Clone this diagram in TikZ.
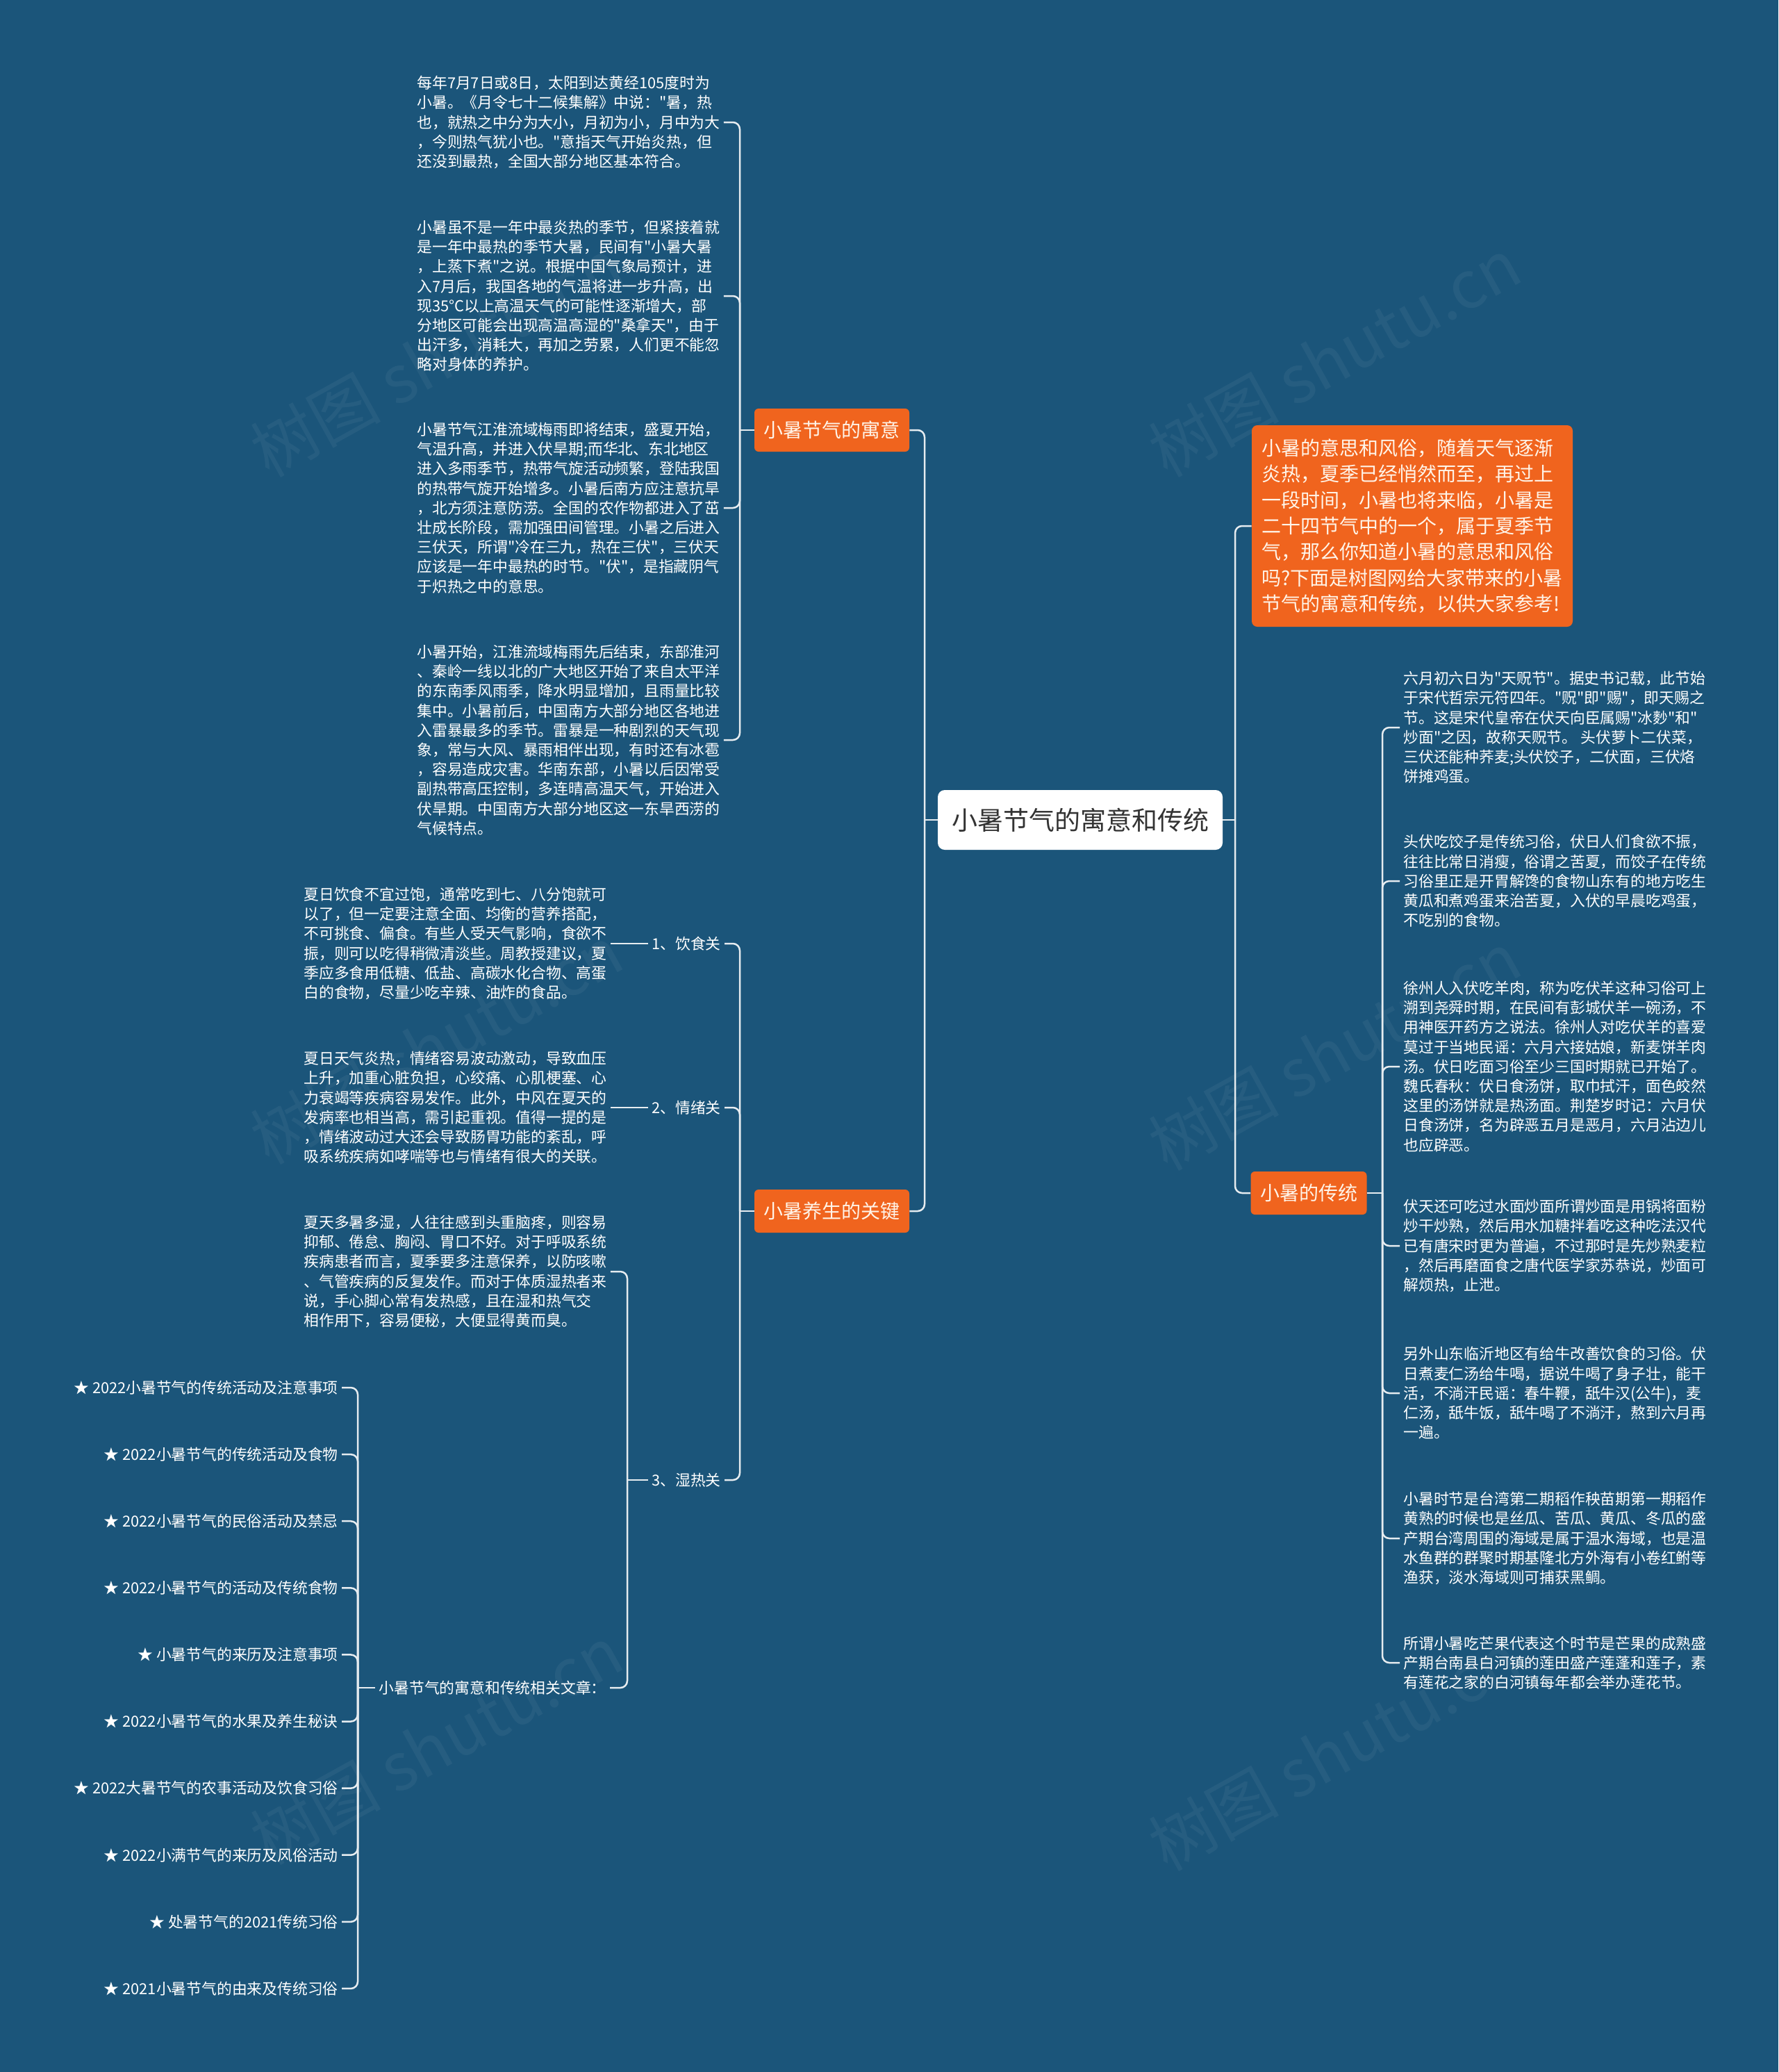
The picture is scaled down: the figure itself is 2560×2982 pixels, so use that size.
\documentclass[tikz,border=0pt]{standalone}
\usepackage{fontspec}
\setmainfont{Noto Sans CJK SC}
\newfontfamily\cjk{Noto Sans CJK SC}
\definecolor{bg}{HTML}{1B557A}
\definecolor{org}{HTML}{F0641E}
\definecolor{ln}{HTML}{E6ECF0}
\definecolor{cream}{HTML}{FFF4E8}
\begin{document}
\begin{tikzpicture}[x=0.5pt,y=-0.5pt,
 body/.style={font=\cjk\fontsize{10.9}{14.1}\selectfont, text=white, align=left, inner xsep=2.5pt, inner ysep=0pt},
 lbl/.style={font=\cjk\fontsize{10.9}{14.1}\selectfont, text=white, inner xsep=2.5pt, inner ysep=2pt},
 topic/.style={fill=org, text=cream, rounded corners=3pt, font=\cjk\fontsize{14}{16}\selectfont, minimum height=31pt, inner xsep=6.75pt},
 conn/.style={draw=ln, line width=1.25pt, rounded corners=5pt},
 wm/.style={text=white, opacity=0.05, rotate=29, font=\cjk\fontsize{47}{50}\selectfont}]
\fill[bg] (0,0) rectangle (2560,2982);
\useasboundingbox (0,0) rectangle (2560,2982);
% watermarks
\foreach \p in {(628,514),(1921,514),(628,1503),(1921,1512),(628,2511),(1921,2520)}
  \node[wm] at \p {树图 shutu.cn};
% root
\node[fill=white, rounded corners=5pt, text=black!80, font=\cjk\fontsize{18.5}{20}\selectfont, minimum width=205pt, minimum height=43pt] (root) at (1555,1180) {小暑节气的寓意和传统};
% main topics
\node[topic] (m1) at (1197.5,619) {小暑节气的寓意};
\node[topic] (m2) at (1197.5,1743) {小暑养生的关键};
\node[topic] (m3) at (1884,1717) {小暑的传统};
\node[fill=org, text=cream, rounded corners=4pt, font=\cjk\fontsize{14}{18.67}\selectfont, align=left, minimum width=231pt, minimum height=145pt] (m0) at (2033,757) {小暑的意思和风俗，随着天气逐渐\\炎热，夏季已经悄然而至，再过上\\一段时间，小暑也将来临，小暑是\\二十四节气中的一个，属于夏季节\\气，那么你知道小暑的意思和风俗\\吗?下面是树图网给大家带来的小暑\\节气的寓意和传统，以供大家参考!};
% root connectors
\draw[conn] (root.west) -- (1331,1180);
\draw[conn] (1331,1180) |- (m1.east);
\draw[conn] (1331,1180) |- (m2.east);
\draw[conn] (root.east) -- (1778,1180);
\draw[conn] (1778,1180) |- (m0.west);
\draw[conn] (1778,1180) |- (m3.west);
% branch 1
\node[body, anchor=west] (a1) at (595,176) {每年7月7日或8日，太阳到达黄经105度时为\\小暑。《月令七十二候集解》中说："暑，热\\也，就热之中分为大小，月初为小，月中为大\\，今则热气犹小也。"意指天气开始炎热，但\\还没到最热，全国大部分地区基本符合。};
\node[body, anchor=west] (a2) at (595,426) {小暑虽不是一年中最炎热的季节，但紧接着就\\是一年中最热的季节大暑，民间有"小暑大暑\\，上蒸下煮"之说。根据中国气象局预计，进\\入7月后，我国各地的气温将进一步升高，出\\现35°C以上高温天气的可能性逐渐增大，部\\分地区可能会出现高温高湿的"桑拿天"，由于\\出汗多，消耗大，再加之劳累，人们更不能忽\\略对身体的养护。};
\node[body, anchor=west] (a3) at (595,731) {小暑节气江淮流域梅雨即将结束，盛夏开始，\\气温升高，并进入伏旱期;而华北、东北地区\\进入多雨季节，热带气旋活动频繁，登陆我国\\的热带气旋开始增多。小暑后南方应注意抗旱\\，北方须注意防涝。全国的农作物都进入了茁\\壮成长阶段，需加强田间管理。小暑之后进入\\三伏天，所谓"冷在三九，热在三伏"，三伏天\\应该是一年中最热的时节。"伏"，是指藏阴气\\于炽热之中的意思。};
\node[body, anchor=west] (a4) at (595,1065) {小暑开始，江淮流域梅雨先后结束，东部淮河\\、秦岭一线以北的广大地区开始了来自太平洋\\的东南季风雨季，降水明显增加，且雨量比较\\集中。小暑前后，中国南方大部分地区各地进\\入雷暴最多的季节。雷暴是一种剧烈的天气现\\象，常与大风、暴雨相伴出现，有时还有冰雹\\，容易造成灾害。华南东部，小暑以后因常受\\副热带高压控制，多连晴高温天气，开始进入\\伏旱期。中国南方大部分地区这一东旱西涝的\\气候特点。};
\draw[conn] (m1.west) -- (1065,619);
\foreach \n in {a1,a2,a3,a4} \draw[conn] (1065,619) |- (\n.east);
% branch 2
\node[lbl, anchor=east] (l1) at (1043,1358) {1、饮食关};
\node[lbl, anchor=east] (l2) at (1043,1594) {2、情绪关};
\node[lbl, anchor=east] (l3) at (1043,2130) {3、湿热关};
\draw[conn] (m2.west) -- (1065,1743);
\foreach \n in {l1,l2,l3} \draw[conn] (1065,1743) |- (\n.east);
\node[body, anchor=west] (b1) at (432,1358) {夏日饮食不宜过饱，通常吃到七、八分饱就可\\以了，但一定要注意全面、均衡的营养搭配，\\不可挑食、偏食。有些人受天气影响，食欲不\\振，则可以吃得稍微清淡些。周教授建议，夏\\季应多食用低糖、低盐、高碳水化合物、高蛋\\白的食物，尽量少吃辛辣、油炸的食品。};
\node[body, anchor=west] (b2) at (432,1594) {夏日天气炎热，情绪容易波动激动，导致血压\\上升，加重心脏负担，心绞痛、心肌梗塞、心\\力衰竭等疾病容易发作。此外，中风在夏天的\\发病率也相当高，需引起重视。值得一提的是\\，情绪波动过大还会导致肠胃功能的紊乱，呼\\吸系统疾病如哮喘等也与情绪有很大的关联。};
\node[body, anchor=west] (b3) at (432,1830) {夏天多暑多湿，人往往感到头重脑疼，则容易\\抑郁、倦怠、胸闷、胃口不好。对于呼吸系统\\疾病患者而言，夏季要多注意保养，以防咳嗽\\、气管疾病的反复发作。而对于体质湿热者来\\说，手心脚心常有发热感，且在湿和热气交\\相作用下，容易便秘，大便显得黄而臭。};
\draw[conn] (l1.west) -- (b1.east);
\draw[conn] (l2.west) -- (b2.east);
\node[lbl, anchor=east] (art) at (878,2429) {小暑节气的寓意和传统相关文章：};
\draw[conn] (l3.west) -- (903,2130);
\draw[conn] (903,2130) |- (b3.east);
\draw[conn] (903,2130) |- (art.east);
% articles
\foreach \t [count=\i from 0] in {★ 2022小暑节气的传统活动及注意事项,★ 2022小暑节气的传统活动及食物,★ 2022小暑节气的民俗活动及禁忌,★ 2022小暑节气的活动及传统食物,★ 小暑节气的来历及注意事项,★ 2022小暑节气的水果及养生秘诀,★ 2022大暑节气的农事活动及饮食习俗,★ 2022小满节气的来历及风俗活动,★ 处暑节气的2021传统习俗,★ 2021小暑节气的由来及传统习俗}{
  \node[lbl, anchor=east] (s\i) at (492,1997+96.1*\i) {\t};
}
\draw[conn] (art.west) -- (515,2429);
\foreach \i in {0,...,9} \draw[conn] (515,2429) |- (s\i.east);
% branch 3
\node[body, anchor=west] (r1) at (2015,1047) {六月初六日为"天贶节"。据史书记载，此节始\\于宋代哲宗元符四年。"贶"即"赐"，即天赐之\\节。这是宋代皇帝在伏天向臣属赐"冰麨"和"\\炒面"之因，故称天贶节。 头伏萝卜二伏菜，\\三伏还能种荞麦;头伏饺子，二伏面，三伏烙\\饼摊鸡蛋。};
\node[body, anchor=west] (r2) at (2015,1268) {头伏吃饺子是传统习俗，伏日人们食欲不振，\\往往比常日消瘦，俗谓之苦夏，而饺子在传统\\习俗里正是开胃解馋的食物山东有的地方吃生\\黄瓜和煮鸡蛋来治苦夏，入伏的早晨吃鸡蛋，\\不吃别的食物。};
\node[body, anchor=west] (r3) at (2015,1535) {徐州人入伏吃羊肉，称为吃伏羊这种习俗可上\\溯到尧舜时期，在民间有彭城伏羊一碗汤，不\\用神医开药方之说法。徐州人对吃伏羊的喜爱\\莫过于当地民谣：六月六接姑娘，新麦饼羊肉\\汤。伏日吃面习俗至少三国时期就已开始了。\\魏氏春秋：伏日食汤饼，取巾拭汗，面色皎然\\这里的汤饼就是热汤面。荆楚岁时记：六月伏\\日食汤饼，名为辟恶五月是恶月，六月沾边儿\\也应辟恶。};
\node[body, anchor=west] (r4) at (2015,1793) {伏天还可吃过水面炒面所谓炒面是用锅将面粉\\炒干炒熟，然后用水加糖拌着吃这种吃法汉代\\已有唐宋时更为普遍，不过那时是先炒熟麦粒\\，然后再磨面食之唐代医学家苏恭说，炒面可\\解烦热，止泄。};
\node[body, anchor=west] (r5) at (2015,2005) {另外山东临沂地区有给牛改善饮食的习俗。伏\\日煮麦仁汤给牛喝，据说牛喝了身子壮，能干\\活，不淌汗民谣：春牛鞭，舐牛汉(公牛)，麦\\仁汤，舐牛饭，舐牛喝了不淌汗，熬到六月再\\一遍。};
\node[body, anchor=west] (r6) at (2015,2214) {小暑时节是台湾第二期稻作秧苗期第一期稻作\\黄熟的时候也是丝瓜、苦瓜、黄瓜、冬瓜的盛\\产期台湾周围的海域是属于温水海域，也是温\\水鱼群的群聚时期基隆北方外海有小卷红鲋等\\渔获，淡水海域则可捕获黑鲷。};
\node[body, anchor=west] (r7) at (2015,2393) {所谓小暑吃芒果代表这个时节是芒果的成熟盛\\产期台南县白河镇的莲田盛产莲蓬和莲子，素\\有莲花之家的白河镇每年都会举办莲花节。};
\draw[conn] (m3.east) -- (1990,1717);
\foreach \n in {r1,r2,r3,r4,r5,r6,r7} \draw[conn] (1990,1717) |- (\n.west);
\end{tikzpicture}
\end{document}
